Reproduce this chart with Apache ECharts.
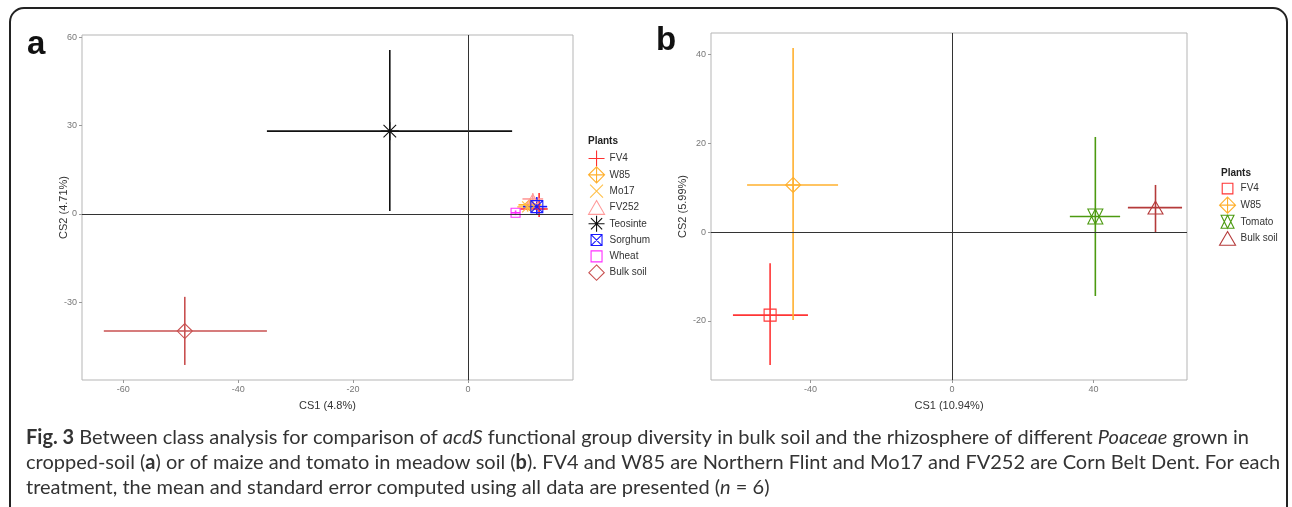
<!DOCTYPE html>
<html><head><meta charset="utf-8">
<script src="https://cdn.jsdelivr.net/npm/echarts@6/dist/echarts.min.js"></script>
<style>html,body{margin:0;padding:0;background:#fff}#c{width:1292px;height:507px}</style>
</head><body><div id="c"></div>
<script>
// ---- Panel a data ----
const plantsA = ['FV4','W85','Mo17','FV252','Teosinte','Sorghum','Wheat','Bulk soil'];
const cs1A    = [12.4, 10.8, 10.4, 11.3, -13.6, 12.0, 8.3, -49.3];
const cs2A    = [1.7, 3.1, 2.4, 5.1, 28.1, 2.5, 0.4, -39.7];
const cs1LoA  = [9.1, 8.8, 8.6, 9.5, -35.0, 9.6, 7.5, -63.4];
const cs1HiA  = [13.9, 12.8, 12.2, 13.1, 7.7, 13.8, 9.1, -35.0];
const cs2LoA  = [-1.0, 1.0, 0.8, 3.0, 1.0, -0.3, -0.4, -51.2];
const cs2HiA  = [7.1, 5.0, 4.0, 7.0, 55.6, 5.8, 1.2, -28.1];
const ticksXA = [-60, -40, -20, 0];
const ticksYA = [-30, 0, 30, 60];
// ---- Panel b data ----
const plantsB = ['FV4','W85','Tomato','Bulk soil'];
const cs1B    = [-51.4, -44.9, 40.5, 57.5];
const cs2B    = [-18.7, 10.6, 3.5, 5.5];
const cs1LoB  = [-61.9, -57.9, 33.3, 49.7];
const cs1HiB  = [-40.7, -32.2, 47.5, 65.0];
const cs2LoB  = [-29.9, -19.8, -14.4, 0.0];
const cs2HiB  = [-7.0, 41.4, 21.4, 10.6];
const ticksXB = [-40, 0, 40];
const ticksYB = [-20, 0, 20, 40];

// ---- styles ----
const BODY = {
  plus: 'M0,5L10,5M5,0L5,10',
  diamondPlus: 'M5,0L10,5L5,10L0,5ZM5,0L5,10M0,5L10,5',
  cross: 'M0,0L10,10M10,0L0,10',
  triangle: 'M5,0.7L10,9.3L0,9.3Z',
  asterisk: 'M0,5L10,5M5,0L5,10M1.5,1.5L8.5,8.5M8.5,1.5L1.5,8.5',
  squareCross: 'M0,0L10,0L10,10L0,10ZM0,0L10,10M10,0L0,10',
  square: 'M0,0L10,0L10,10L0,10Z',
  diamond: 'M5,0L10,5L5,10L0,5Z',
  bowtie: 'M0,0L10,0L5,10ZM0,10L10,10L5,0Z'
};
// pad the bounding box (so the glyph is drawn smaller inside its box)
function icon(body, pad) {
  pad = pad || 0;
  return 'path://M' + (-pad) + ',' + (-pad) + 'M' + (10 + pad) + ',' + (10 + pad) + body;
}
const styleA = {
  colors: ['#FF3030','#FFB02E','#FFC04A','#FF9A9A','#111111','#1A1AFF','#FF30FF','#C85050'],
  symbols: [BODY.plus, BODY.diamondPlus, BODY.cross, BODY.triangle, BODY.asterisk, BODY.squareCross, BODY.square, BODY.diamond],
  sizes: [12, 11, 11, 11, 18, 12, 9, 15],
  legendPad: [0, 0, 1.2, 0, 0, 2.3, 2.3, 0.2]
};
const styleB = {
  colors: ['#FF3535','#FFB02E','#4C9A10','#B53A3A'],
  symbols: [BODY.square, BODY.diamondPlus, BODY.bowtie, BODY.triangle],
  sizes: [12, 15, 15, 15],
  legendPad: [2.5, 0, 1.2, 0]
};

const chart = echarts.init(document.getElementById('c'), null, {renderer: 'canvas'});

function errSeries(names, xs, ys, xl, xh, yl, yh, colors, gi) {
  return names.map((n, i) => ({
    type: 'custom', name: n, xAxisIndex: gi, yAxisIndex: gi, silent: true, z: 2,
    data: [[xs[i], ys[i], xl[i], xh[i], yl[i], yh[i]]],
    renderItem: function (params, api) {
      const x = api.value(0), y = api.value(1);
      const a = api.coord([api.value(2), y]), b = api.coord([api.value(3), y]);
      const c = api.coord([x, api.value(4)]), d = api.coord([x, api.value(5)]);
      return {type: 'group', children: [
        {type: 'line', shape: {x1: a[0], y1: a[1], x2: b[0], y2: b[1]}, style: {stroke: colors[i], lineWidth: 1.6}},
        {type: 'line', shape: {x1: c[0], y1: c[1], x2: d[0], y2: d[1]}, style: {stroke: colors[i], lineWidth: 1.6}}
      ]};
    }
  }));
}
function ptSeries(names, xs, ys, st, gi) {
  return names.map((n, i) => ({
    type: 'scatter', name: n, xAxisIndex: gi, yAxisIndex: gi, silent: true, z: 3,
    symbol: icon(st.symbols[i], 0), symbolSize: st.sizes[i], symbolKeepAspect: true,
    itemStyle: {color: 'transparent', borderColor: st.colors[i], borderWidth: 1.1, opacity: 1},
    emphasis: {disabled: true},
    data: [[xs[i], ys[i]]]
  }));
}
function zeroLine(gi) {
  return {
    type: 'scatter', xAxisIndex: gi, yAxisIndex: gi, data: [], silent: true, z: 1,
    markLine: {silent: true, symbol: 'none', label: {show: false}, animation: false,
      lineStyle: {color: '#333', width: 1, type: 'solid'},
      data: [{xAxis: 0}, {yAxis: 0}]}
  };
}
function legendData(names, st) {
  return names.map((n, i) => ({
    name: n, icon: icon(st.symbols[i], st.legendPad[i]),
    itemStyle: {color: 'transparent', borderColor: st.colors[i], borderWidth: 1.1}
  }));
}
const axisCommon = {
  axisLine: {show: false, onZero: false},
  splitLine: {show: false},
  axisTick: {show: true, length: 3, lineStyle: {color: '#999'}},
  axisLabel: {color: '#777', fontSize: 9, fontFamily: 'Liberation Sans', margin: 5},
  nameTextStyle: {color: '#333', fontSize: 11, fontFamily: 'Liberation Sans'},
  nameLocation: 'middle',
  nameMoveOverlap: false
};
function axis(extra, ticks) {
  return Object.assign({}, axisCommon, extra, {
    axisTick: Object.assign({}, axisCommon.axisTick, {customValues: ticks}),
    axisLabel: Object.assign({}, axisCommon.axisLabel, {customValues: ticks})
  });
}

const CF = 'Lato', CS = 20;
const rich = {
  b: {fontWeight: 'bold', fontSize: CS, fontFamily: CF, color: '#222'},
  i: {fontStyle: 'italic', fontSize: CS, fontFamily: CF, color: '#333'}
};
function capLine(txt, y) {
  return {type: 'text', left: 26, top: y, silent: true,
    style: {text: txt, rich: rich, fill: '#333', fontSize: CS, fontFamily: CF}};
}
const legendText = {color: '#333', fontSize: 10, fontFamily: 'Liberation Sans'};

const option = {
  animation: false,
  backgroundColor: '#fff',
  grid: [
    {left: 82, top: 35, width: 491, height: 345, show: true, borderColor: '#b5b5b5', borderWidth: 1},
    {left: 711, top: 33, width: 476, height: 347, show: true, borderColor: '#b5b5b5', borderWidth: 1}
  ],
  xAxis: [
    axis({type: 'value', gridIndex: 0, min: -67.2, max: 18.3, name: 'CS1 (4.8%)', nameGap: 20}, ticksXA),
    axis({type: 'value', gridIndex: 1, min: -68.1, max: 66.4, name: 'CS1 (10.94%)', nameGap: 20}, ticksXB)
  ],
  yAxis: [
    axis({type: 'value', gridIndex: 0, min: -56.3, max: 60.7, name: 'CS2 (4.71%)', nameGap: 13}, ticksYA),
    axis({type: 'value', gridIndex: 1, min: -33.3, max: 44.8, name: 'CS2 (5.99%)', nameGap: 23}, ticksYB)
  ],
  legend: [
    {orient: 'vertical', left: 588, top: 150, padding: 0, itemWidth: 16, itemHeight: 16, itemGap: -0.8,
     selectedMode: false, textStyle: legendText, data: legendData(plantsA, styleA)},
    {orient: 'vertical', left: 1219, top: 180, padding: 0, itemWidth: 16, itemHeight: 16, itemGap: -0.5,
     selectedMode: false, textStyle: legendText, data: legendData(plantsB, styleB)}
  ],
  graphic: [
    {type: 'rect', silent: true, shape: {x: 10, y: 8, width: 1277, height: 530, r: 14},
     style: {fill: 'none', stroke: '#222', lineWidth: 2}},
    {type: 'text', left: 27, top: 28, silent: true,
     style: {text: 'a', font: 'bold 33px Liberation Sans', fill: '#111'}},
    {type: 'text', left: 656, top: 24, silent: true,
     style: {text: 'b', font: 'bold 33px Liberation Sans', fill: '#111'}},
    {type: 'text', left: 588, top: 136, silent: true,
     style: {text: 'Plants', font: 'bold 10px Liberation Sans', fill: '#222'}},
    {type: 'text', left: 1221, top: 168, silent: true,
     style: {text: 'Plants', font: 'bold 10px Liberation Sans', fill: '#222'}},
    capLine('{b|Fig. 3} Between class analysis for comparison of {i|acdS} functional group diversity in bulk soil and the rhizosphere of different {i|Poaceae} grown in', 428),
    capLine('cropped-soil ({b|a}) or of maize and tomato in meadow soil ({b|b}). FV4 and W85 are Northern Flint and Mo17 and FV252 are Corn Belt Dent. For each', 453),
    capLine('treatment, the mean and standard error computed using all data are presented ({i|n} = 6)', 478)
  ],
  series: [].concat(
    [zeroLine(0), zeroLine(1)],
    errSeries(plantsA, cs1A, cs2A, cs1LoA, cs1HiA, cs2LoA, cs2HiA, styleA.colors, 0),
    errSeries(plantsB, cs1B, cs2B, cs1LoB, cs1HiB, cs2LoB, cs2HiB, styleB.colors, 1),
    ptSeries(plantsA, cs1A, cs2A, styleA, 0),
    ptSeries(plantsB, cs1B, cs2B, styleB, 1)
  )
};
chart.setOption(option);
</script></body></html>
